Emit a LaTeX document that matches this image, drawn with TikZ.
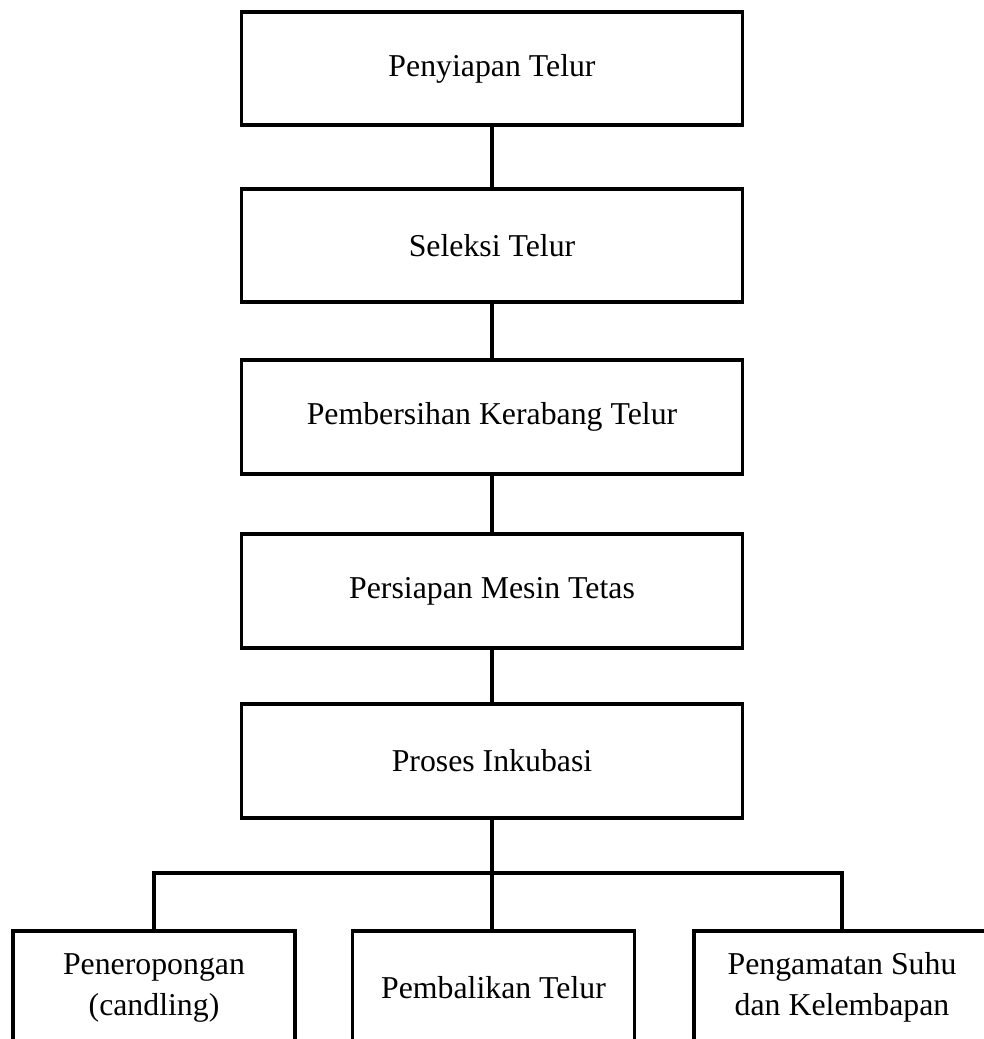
\documentclass[tikz,border=0pt]{standalone}
\usepackage{fontspec}
\setmainfont{Liberation Serif}
\usepackage{tikz}
\usetikzlibrary{positioning,calc}

\begin{document}
\begin{tikzpicture}[
    x=1pt, y=-1pt,
    box/.style={draw, line width=3.6pt, minimum width=501pt, minimum height=113.5pt, inner sep=0pt, align=center, font=\fontsize{31.8}{41}\selectfont},
    sub/.style={box, minimum width=282pt},
    link/.style={line width=3.6pt},
]
    \useasboundingbox (0,0) rectangle (984,1039);
    \clip (0,0) rectangle (984,1039);

    \node[box] (siap) at (492, 68.5) {Penyiapan Telur};
    \node[box] (seleksi) at (492, 245.5) {Seleksi Telur};
    \node[box] (bersih) at (492, 417) {Pembersihan Kerabang Telur};
    \node[box] (mesin) at (492, 591) {Persiapan Mesin Tetas};
    \node[box] (inkubasi) at (492, 761) {Proses Inkubasi};

    \node[sub] (candling) at (154, 987.7) {Peneropongan\\(candling)};
    \node[sub] (balik) at (493.5, 987.7) {Pembalikan Telur};
    \node[sub, minimum width=296pt] (suhu) at (842, 987.7) {Pengamatan Suhu\\dan Kelembapan};

    \coordinate (cabang) at (492, 873);

    \draw[link] (siap) -- (seleksi);
    \draw[link] (seleksi) -- (bersih);
    \draw[link] (bersih) -- (mesin);
    \draw[link] (mesin) -- (inkubasi);
    \draw[link] (inkubasi) -- (cabang);
    \draw[link] (candling.north) |- (cabang) -| (suhu.north);
    \draw[link] (cabang) -- (cabang |- balik.north);
\end{tikzpicture}
\end{document}
